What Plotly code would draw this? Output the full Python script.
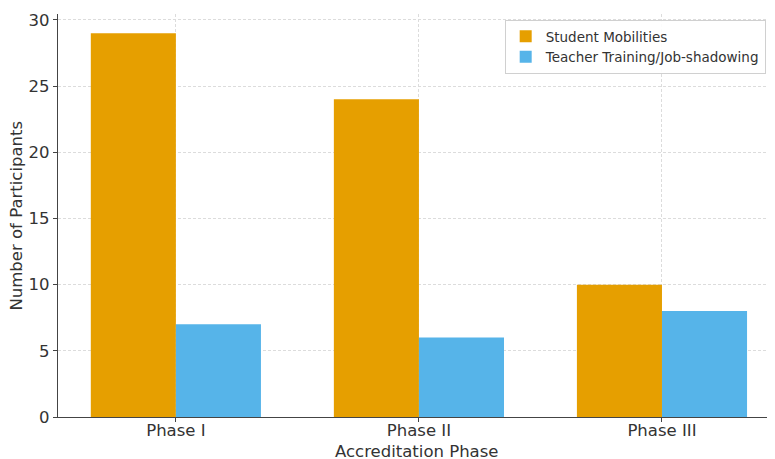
import plotly.graph_objects as go

categories = ["Phase I", "Phase II", "Phase III"]
student_mobilities = [29, 24, 10]
teacher_training = [7, 6, 8]
series_names = ["Student Mobilities", "Teacher Training/Job-shadowing"]
colors = ["#E69F00", "#56B4E9"]

xpos = list(range(len(categories)))
w = 0.35

fig = go.Figure()
fig.add_trace(go.Bar(x=[p - w / 2 for p in xpos], y=student_mobilities, width=w,
                     name=series_names[0], marker=dict(color=colors[0], line=dict(width=0))))
fig.add_trace(go.Bar(x=[p + w / 2 for p in xpos], y=teacher_training, width=w,
                     name=series_names[1], marker=dict(color=colors[1], line=dict(width=0))))

# page body has an 8px margin, so the figure is sized/offset to compensate
font = "DejaVu Sans, sans-serif"
fig.update_layout(
    width=767, height=451,
    margin=dict(l=50, r=0, t=6, b=42, autoexpand=False),
    plot_bgcolor="white", paper_bgcolor="white",
    font=dict(family=font, size=16, color="#333333"),
    barmode="overlay",
    showlegend=True,
    legend=dict(x=0.623, y=0.985, xanchor="left", yanchor="top",
                bgcolor="rgba(255,255,255,0.9)", bordercolor="#d0d0d0", borderwidth=1,
                font=dict(size=13.5, color="#333333"), tracegroupgap=0, itemwidth=30),
    annotations=[
        dict(text="Accreditation Phase", xref="paper", yref="paper", x=0.5, y=0,
             yshift=-34, xanchor="center", yanchor="middle", showarrow=False,
             font=dict(size=16.5, color="#333333")),
        dict(text="Number of Participants", xref="paper", yref="paper", x=0, y=0.5,
             xshift=-42, xanchor="center", yanchor="middle", showarrow=False,
             textangle=-90, font=dict(size=16.5, color="#333333")),
    ],
)
fig.update_xaxes(
    range=[-0.485, 2.465], tickvals=xpos, ticktext=categories, automargin=False,
    showline=True, linecolor="#444444", linewidth=1.2,
    ticks="outside", ticklen=4, tickcolor="#444444", ticklabelstandoff=-6,
    showgrid=True, gridcolor="#dcdcdc", griddash="3px,2px", gridwidth=1,
    tickfont=dict(size=16.5), zeroline=False,
)
fig.update_yaxes(
    range=[0, 30.45], tickvals=[0, 5, 10, 15, 20, 25, 30], automargin=False,
    showline=True, linecolor="#444444", linewidth=1.2,
    ticks="outside", ticklen=4, tickcolor="#444444",
    showgrid=True, gridcolor="#dcdcdc", griddash="3px,2px", gridwidth=1,
    tickfont=dict(size=16.5), zeroline=False,
)
fig.write_html("out.html")
